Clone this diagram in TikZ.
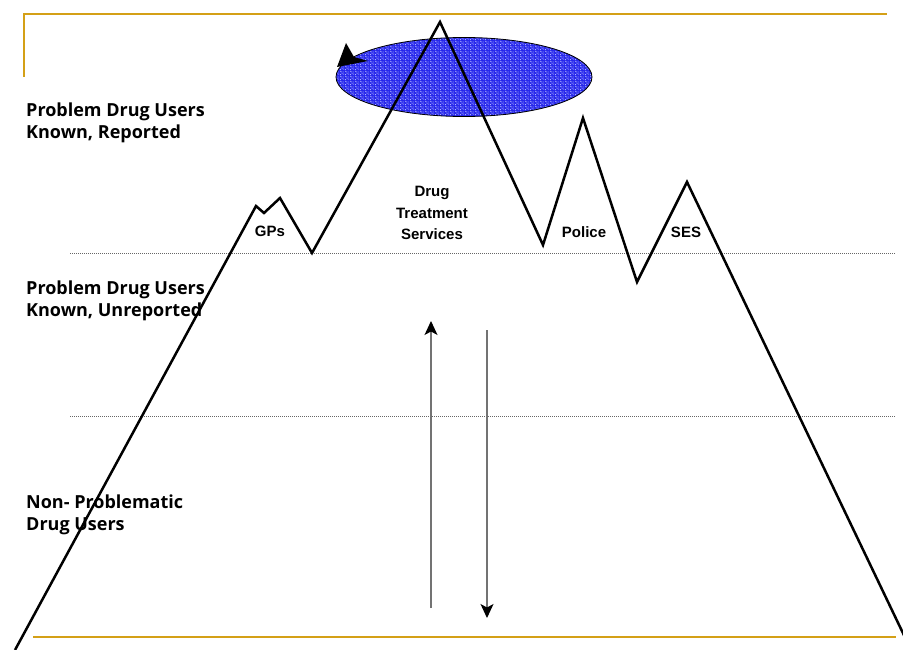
\documentclass[tikz,border=0pt]{standalone}
\usepackage{fontspec}
\newfontfamily\sidefont{Open Sans}
\newfontfamily\arialfont{Liberation Sans}
\usetikzlibrary{arrows.meta,patterns}
\definecolor{gold}{RGB}{212,160,23}
\definecolor{iceblue}{RGB}{40,40,235}
\definecolor{speckblue}{RGB}{175,180,255}
\definecolor{shaftgray}{RGB}{115,115,115}
\pgfdeclarepatternformonly{speckle}{\pgfqpoint{0pt}{0pt}}{\pgfqpoint{5pt}{5pt}}{\pgfqpoint{5pt}{5pt}}{%
  \pgfpathrectangle{\pgfqpoint{0pt}{0pt}}{\pgfqpoint{1pt}{1pt}}%
  \pgfpathrectangle{\pgfqpoint{2pt}{1pt}}{\pgfqpoint{1pt}{1pt}}%
  \pgfpathrectangle{\pgfqpoint{3pt}{3pt}}{\pgfqpoint{1.2pt}{1pt}}%
  \pgfpathrectangle{\pgfqpoint{1pt}{3pt}}{\pgfqpoint{1pt}{1.2pt}}%
  \pgfpathrectangle{\pgfqpoint{4pt}{0.5pt}}{\pgfqpoint{0.8pt}{1pt}}%
  \pgfpathrectangle{\pgfqpoint{0pt}{4pt}}{\pgfqpoint{1pt}{0.8pt}}%
  \pgfusepath{fill}}
\tikzset{
  frameline/.style={draw=gold,line width=2pt},
  mountain/.style={draw=black,line width=2.5pt,line join=miter},
  levelline/.style={draw=black!60,line width=0.8pt,dash pattern=on 1pt off 1pt},
  flowarrow/.style={draw=shaftgray,line width=1.1pt,-{Stealth[length=14pt,width=13pt,inset=3.5pt,color=black]}},
  sidelabel/.style={font=\sidefont\bfseries\fontsize{18}{22}\selectfont,align=left,anchor=base west,inner sep=0pt},
  peaklabel/.style={font=\arialfont\bfseries\fontsize{15}{21.5}\selectfont,align=center,inner sep=0pt}
}
\begin{document}
\begin{tikzpicture}[x=1pt,y=-1pt]
\useasboundingbox (0,0) rectangle (903,650);
\begin{scope}
\clip (0,0) rectangle (903,650);
% frame lines
\coordinate (ftl) at (24,14);
\coordinate (ftr) at (887,14);
\coordinate (flb) at (24,77);
\coordinate (fbl) at (33,637);
\coordinate (fbr) at (896,637);
\draw[frameline] (flb) -- (ftl) -- (ftr);
\draw[frameline] (fbl) -- (fbr);
% level lines
\coordinate (l1a) at (70,253);
\coordinate (l1b) at (896,253);
\coordinate (l2a) at (70,416);
\coordinate (l2b) at (896,416);
\draw[levelline] (l1a) -- (l1b);
\draw[levelline] (l2a) -- (l2b);
% ellipse (tip of the iceberg)
\coordinate (cloud) at (464,77);
\fill[iceblue] (cloud) ellipse [x radius=128, y radius=39.5];
\fill[pattern=speckle,pattern color=speckblue] (cloud) ellipse [x radius=128, y radius=39.5];
\draw[black,line width=0.8pt] (cloud) ellipse [x radius=128, y radius=39.5];
% rotation arrowhead on the ellipse
\coordinate (ahtip) at (337,67);
\coordinate (ahb1) at (346,43);
\coordinate (ahin) at (354,57);
\coordinate (ahb2) at (368,61);
\fill[black] (ahtip) -- (ahb1) -- (ahin) -- (ahb2) -- cycle;
% mountain
\coordinate (m0) at (15,650);
\coordinate (m1) at (256,206);
\coordinate (m2) at (264,213);
\coordinate (m3) at (280,198);
\coordinate (m4) at (312,253);
\coordinate (m5) at (440,22);
\coordinate (m6) at (543,245);
\coordinate (m7) at (583,118);
\coordinate (m8) at (637,282);
\coordinate (m9) at (687,182);
\coordinate (m10) at (912,652);
\draw[mountain] (m0) -- (m1) -- (m2) -- (m3) -- (m4) -- (m5) -- (m6) -- (m7) -- (m8) -- (m9) -- (m10);
% flow arrows
\coordinate (upa) at (431,608);
\coordinate (upb) at (431,321);
\coordinate (dna) at (487,330);
\coordinate (dnb) at (487,618);
\draw[flowarrow] (upa) -- (upb);
\draw[flowarrow] (dna) -- (dnb);
\end{scope}
% side labels
\node (lab1) [sidelabel] at (26,138.5) {Problem Drug Users\\Known, Reported};
\node (lab2) [sidelabel] at (26,316.5) {Problem Drug Users\\Known, Unreported};
\node (lab3) [sidelabel] at (26,530) {Non- Problematic\\Drug Users};
% peak labels
\node (gps) [peaklabel] at (270,231) {GPs};
\node (dts) [peaklabel] at (432,213) {Drug\\Treatment\\Services};
\node (pol) [peaklabel] at (584,232) {Police};
\node (ses) [peaklabel] at (686,232) {SES};
\end{tikzpicture}
\end{document}
